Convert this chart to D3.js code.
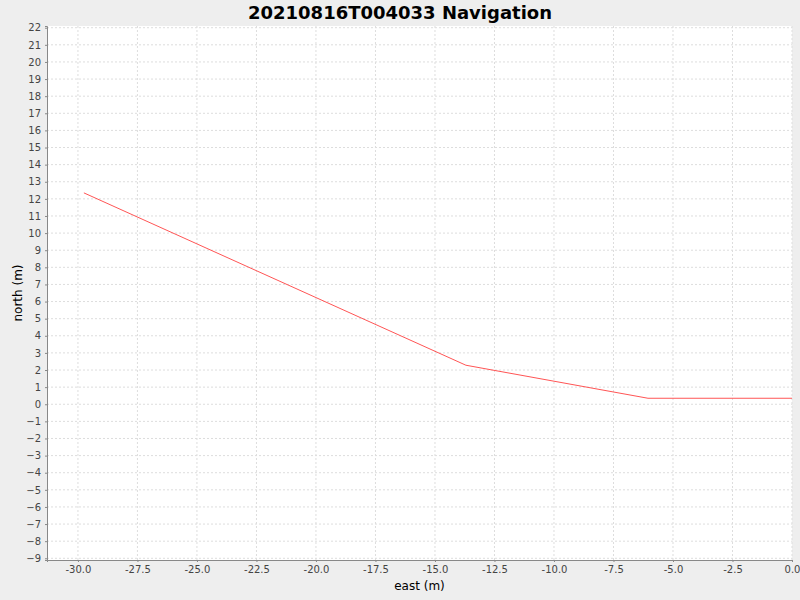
<!DOCTYPE html>
<html><head><meta charset="utf-8">
<script src="https://cdn.jsdelivr.net/npm/d3@7"></script>
<style>body{margin:0;background:#eeeeee}svg{display:block;font-family:"DejaVu Sans",sans-serif}</style>
</head><body><svg width="800" height="600"></svg>
<script>
const title = "20210816T004033 Navigation";
const east = [-29.75, -13.7, -6.05, 0];
const north = [12.35, 2.28, 0.35, 0.35];
const xTicks = [-30, -27.5, -25, -22.5, -20, -17.5, -15, -12.5, -10, -7.5, -5, -2.5, 0];
const yTicks = d3.range(-9, 23);

const svg = d3.select("svg");
const m = {left: 47, right: 8, top: 26, bottom: 40};
const w = 800 - m.left - m.right, h = 600 - m.top - m.bottom;
const x = d3.scaleLinear().domain([-31.3, 0]).range([0, w]);
const y = d3.scaleLinear().domain([-9.1, 22.1]).range([h, 0]);

svg.append("text").attr("x", 400).attr("y", 19).attr("text-anchor", "middle")
  .attr("font-size", 18).attr("font-weight", "bold").text(title);

const g = svg.append("g").attr("transform", `translate(${m.left},${m.top})`);
g.append("rect").attr("width", w).attr("height", h).attr("fill", "#fff");
g.selectAll(".gx").data(xTicks).enter().append("line")
  .attr("x1", d => x(d)).attr("x2", d => x(d)).attr("y1", 0).attr("y2", h)
  .attr("stroke", "#dddddd").attr("stroke-dasharray", "2,2");
g.selectAll(".gy").data(yTicks).enter().append("line")
  .attr("y1", d => y(d)).attr("y2", d => y(d)).attr("x1", 0).attr("x2", w)
  .attr("stroke", "#dddddd").attr("stroke-dasharray", "2,2");

const fmtX = d => d.toFixed(1);
const ax = g.append("g").attr("transform", `translate(0,${h})`)
  .call(d3.axisBottom(x).tickValues(xTicks).tickFormat(fmtX).tickSize(2).tickPadding(4));
const ay = g.append("g").call(d3.axisLeft(y).tickValues(yTicks).tickSize(2).tickPadding(4));
[ax, ay].forEach(a => {
  a.selectAll("text").attr("font-size", 10).attr("fill", "#444").attr("font-family", "DejaVu Sans");
  a.selectAll("line").attr("stroke", "#888");
  a.select(".domain").attr("stroke", "#888");
});

const pts = east.map((e, i) => [e, north[i]]);
g.append("path").datum(pts).attr("fill", "none").attr("stroke", "#ff5555").attr("stroke-width", 1)
  .attr("d", d3.line().x(d => x(d[0])).y(d => y(d[1])));

svg.append("text").attr("x", m.left + w / 2).attr("y", 590).attr("text-anchor", "middle")
  .attr("font-size", 12).text("east (m)");
svg.append("text").attr("transform", `translate(22,${m.top + h / 2}) rotate(-90)`)
  .attr("text-anchor", "middle").attr("font-size", 12).text("north (m)");
</script></body></html>
